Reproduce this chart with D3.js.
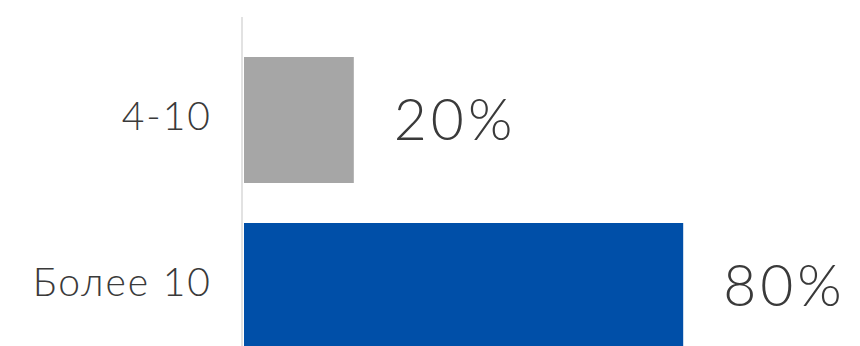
<!DOCTYPE html>
<html>
<head>
<meta charset="utf-8">
<script src="https://cdn.jsdelivr.net/npm/d3@7"></script>
<style>
  html, body { margin: 0; padding: 0; background: #ffffff; }
  svg { display: block; }
  text { font-family: Lato, "Noto Sans", sans-serif; font-weight: 300; fill: #3a3a3a; }
</style>
</head>
<body>
<svg id="chart" width="860" height="346"></svg>
<script>
// Share of respondents by group
const categories = ["4-10", "Более 10"];
const values = [20, 80];
const colors = ["#a6a6a6", "#004fa8"];

const width = 860, height = 346;
const svg = d3.select("#chart");

const x = d3.scaleLinear().domain([0, 100]).range([244, 793]);
const y = d3.scaleBand()
  .domain(categories)
  .range([37, 369])
  .paddingInner(0.241)
  .paddingOuter(0.1205);

const rows = categories.map((c, i) => ({ category: c, value: values[i], color: colors[i] }));

// bars
svg.append("g")
  .selectAll("rect")
  .data(rows)
  .join("rect")
  .attr("x", x(0))
  .attr("y", d => y(d.category))
  .attr("width", d => x(d.value) - x(0))
  .attr("height", y.bandwidth())
  .attr("fill", d => d.color);

// vertical axis with category labels
const axis = svg.append("g")
  .attr("transform", `translate(${x(0) - 2},0)`)
  .call(d3.axisLeft(y).tickSize(0).tickPadding(30));
axis.select(".domain")
  .attr("d", `M0,17V${height}`)
  .attr("stroke", "#e2e2e2")
  .attr("stroke-width", 2);
axis.selectAll(".tick text")
  .attr("font-size", 39)
  .attr("dy", "0.36em")
  .style("font-family", "Lato, 'Noto Sans', sans-serif")
  .style("font-weight", 300)
  .style("letter-spacing", "2px")
  .attr("fill", "#3a3a3a")
  .attr("transform", "translate(0,-4)");

// value labels
svg.append("g")
  .selectAll("text")
  .data(rows)
  .join("text")
  .attr("x", d => x(d.value) + 40)
  .attr("y", d => y(d.category) + y.bandwidth() / 2 + 20)
  .attr("font-size", 57)
  .style("letter-spacing", "4px")
  .text(d => d.value + "%");
</script>
</body>
</html>
